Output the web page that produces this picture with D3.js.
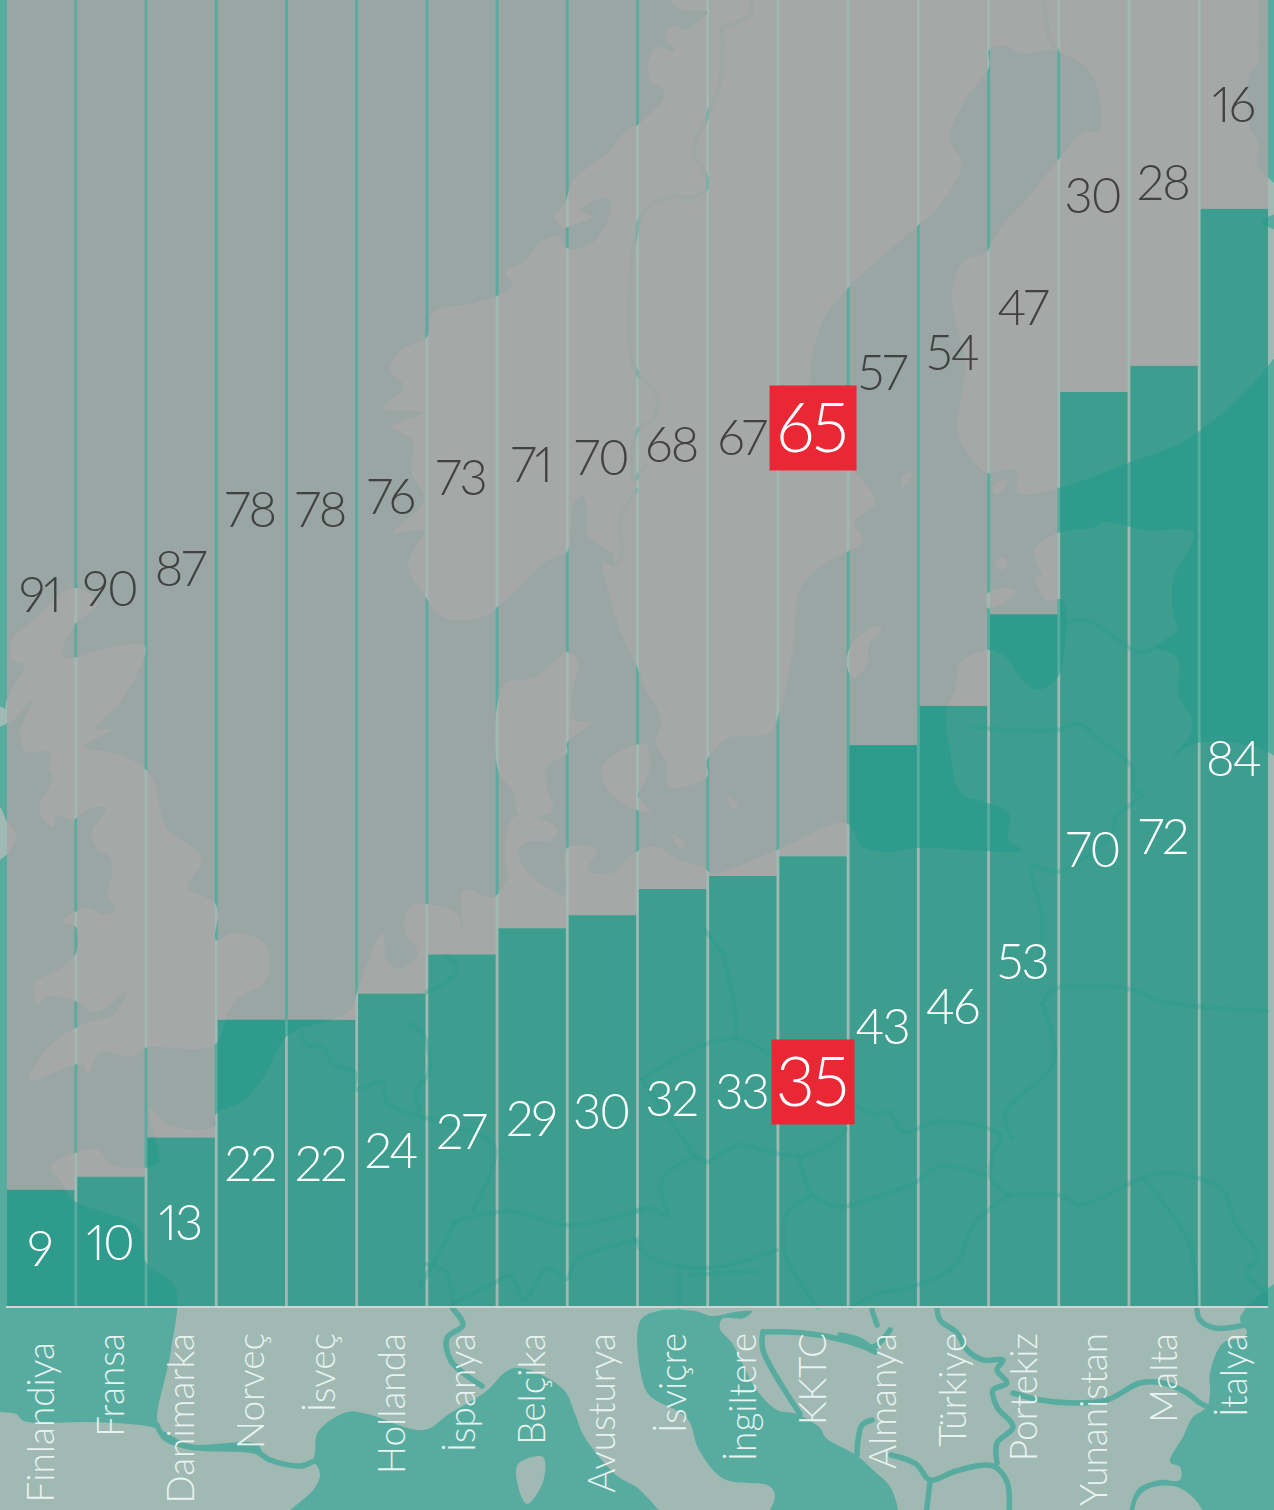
<!DOCTYPE html>
<html><head><meta charset="utf-8">
<style>html,body{margin:0;padding:0;background:#57ac9f}svg{display:block}</style>
<script src="https://cdn.jsdelivr.net/npm/d3@7"></script></head>
<body><svg id="c" width="1274" height="1510"></svg>
<script>
const categories = ["Finlandiya","Fransa","Danimarka","Norveç","İsveç","Hollanda","İspanya","Belçika","Avusturya","İsviçre","İngiltere","KKTC","Almanya","Türkiye","Portekiz","Yunanistan","Malta","İtalya"];
const lowerValues = [9,10,13,22,22,24,27,29,30,32,33,34.5,43,46,53,70,72,84];
const lowerLabels = [9,10,13,22,22,24,27,29,30,32,33,35,43,46,53,70,72,84];
const upperLabels = [91,90,87,78,78,76,73,71,70,68,67,65,57,54,47,30,28,16];
const highlighted = "KKTC";

// background map: traced outlines
const landNorth = [[670,-20],[675,7],[707,12],[685,30],[675,25],[665,35],[675,52],[658,47],[648,63],[650,80],[665,93],[640,123],[624,133],[608,153],[592,165],[573,180],[565,203],[555,217],[565,233],[551,237],[539,243],[527,260],[506,272],[512,287],[475,303],[433,312],[427,337],[402,350],[390,370],[404,387],[384,408],[424,413],[392,427],[412,440],[412,473],[424,500],[394,533],[424,530],[408,565],[424,595],[445,618],[482,617],[496,608],[527,580],[540,565],[555,557],[567,552],[571,530],[573,505],[582,496],[587,505],[588,535],[600,545],[612,553],[614,566],[603,563],[608,590],[620,630],[637,667],[646,690],[661,720],[656,743],[667,763],[669,787],[707,777],[707,760],[728,738],[769,733],[781,707],[793,650],[801,587],[826,563],[834,558],[863,540],[854,523],[875,503],[854,470],[826,433],[810,383],[822,323],[846,290],[916,227],[936,210],[962,163],[950,140],[965,100],[989,67],[989,50],[1001,45],[1022,53],[1046,50],[1058,52],[1091,73],[1099,130],[1083,133],[1058,160],[1026,200],[1001,227],[985,253],[965,260],[952,293],[965,367],[958,433],[973,460],[987,473],[1016,470],[1018,493],[1058,488],[1128,463],[1197,433],[1290,330],[1290,240],[1262,222],[1290,205],[1274,183],[1258,167],[1258,143],[1250,127],[1250,73],[1258,63],[1258,50],[1246,-20]];
const landMain = [[51,1166],[98,1150],[110,1164],[145,1168],[159,1162],[155,1137],[149,1107],[169,1125],[214,1127],[216,1114],[245,1100],[265,1075],[284,1039],[302,1028],[327,1021],[350,1010],[357,992],[382,933],[388,963],[402,968],[418,953],[404,930],[412,905],[433,905],[457,913],[463,930],[463,890],[494,897],[510,878],[535,887],[563,897],[567,848],[596,850],[588,870],[612,873],[634,853],[656,847],[679,860],[703,867],[712,873],[777,850],[846,823],[863,847],[887,852],[916,848],[1022,850],[1009,840],[1009,813],[985,802],[961,793],[950,750],[946,713],[956,687],[960,663],[989,650],[1005,657],[1022,680],[1038,690],[1058,677],[1065,643],[1063,600],[1046,600],[1036,578],[1042,577],[1034,550],[1058,533],[1095,527],[1103,522],[1144,530],[1193,533],[1173,580],[1173,613],[1177,630],[1156,647],[1177,657],[1179,697],[1191,717],[1191,733],[1173,757],[1197,743],[1290,770],[1290,1530],[165,1530],[160,1430],[157,1418],[171,1350],[175,1286],[147,1264],[139,1228],[73,1200],[61,1182]];
const landUK = [[33,620],[12,640],[12,660],[24,665],[6,703],[8,723],[33,700],[20,733],[27,752],[49,752],[49,770],[53,777],[39,810],[53,827],[57,815],[73,820],[86,810],[106,808],[92,833],[98,850],[110,857],[112,873],[108,897],[116,908],[106,915],[86,908],[63,922],[76,927],[76,953],[53,973],[35,982],[37,1004],[49,996],[73,1000],[96,1012],[127,991],[114,1014],[86,1023],[53,1043],[29,1080],[82,1064],[88,1073],[100,1052],[131,1057],[145,1048],[214,1045],[229,1009],[241,996],[265,982],[269,957],[261,940],[233,933],[216,940],[218,913],[214,902],[188,887],[202,862],[196,850],[171,833],[163,820],[153,780],[143,767],[114,753],[84,747],[110,730],[96,728],[122,700],[145,647],[122,645],[63,657],[73,627],[98,603],[73,588]];
const landIreland = [[-15,800],[0,807],[6,820],[16,837],[8,853],[0,860],[-15,870]];
const landIrelandN = [[-15,705],[6,710],[8,722],[-15,728]];
const landDenmark = [[602,767],[622,750],[646,745],[650,763],[646,780],[638,795],[650,812],[637,810],[608,790]];
const landJutland = [[567,652],[578,660],[571,700],[575,720],[590,723],[567,743],[567,753],[547,767],[547,787],[553,810],[535,817],[518,813],[514,793],[498,770],[498,700],[506,683],[535,677],[559,657]];
const landFrisia = [[514,817],[557,828],[551,840],[527,842],[518,852],[530,875],[561,897],[510,880]];
const landAfrica = [[-20,1412],[0,1412],[16,1414],[24,1421],[90,1422],[139,1425],[157,1429],[167,1439],[188,1447],[253,1452],[278,1464],[314,1463],[320,1475],[314,1489],[286,1515],[280,1530],[-20,1530]];
const landSardinia = [[518,1464],[543,1457],[543,1482],[527,1504],[518,1486]];
const landCauc = [[1137,1500],[1150,1488],[1180,1488],[1203,1512],[1200,1530],[1137,1530]];
const islands = [
  [[879,626],[881,633],[869,643],[867,663],[854,678],[847,667],[852,643]],
  [[1001,558],[1008,563],[1002,570],[995,564]],
  [[986,595],[1005,588],[1016,592],[1003,603],[988,608]],
  [[728,795],[738,807],[731,807]],
  [[673,835],[685,843],[679,848]],
  [[903,475],[912,473],[908,483],[902,487]],
  [[993,487],[1007,480],[1003,490],[995,494]]
];
const seaFjord = [[608,198],[610,213],[592,243],[567,248],[559,233],[592,217],[580,210]];
const seaMedW = [[162,1432],[188,1444],[257,1444],[265,1457],[278,1462],[306,1468],[314,1457],[318,1432],[347,1412],[367,1414],[424,1430],[449,1414],[484,1393],[514,1368],[563,1389],[575,1414],[584,1436],[616,1475],[640,1490],[665,1530],[200,1530]];
const seaAdriatic = [[640,1321],[658,1311],[695,1311],[712,1316],[735,1312],[752,1311],[744,1318],[722,1319],[720,1329],[732,1343],[756,1389],[777,1410],[797,1414],[820,1428],[826,1438],[856,1455],[873,1470],[892,1490],[895,1530],[765,1530],[775,1496],[769,1486],[724,1479],[699,1450],[687,1418],[650,1396],[642,1379]];
const seaBlack = [[1290,1280],[1240,1318],[1247,1332],[1243,1338],[1223,1343],[1210,1373],[1210,1393],[1207,1407],[1193,1417],[1183,1437],[1170,1462],[1180,1467],[1180,1480],[1160,1480],[1137,1490],[1133,1530],[1290,1530]];

const straits = [
  [[157,1425],[165,1438],[190,1447],[255,1451],[270,1460],[300,1466],[312,1462]],
  [[763,1332],[790,1332],[830,1337],[862,1346],[875,1352]],
  [[763,1332],[763,1350],[800,1414]],
  [[857,1455],[858,1440],[862,1425],[872,1420]],
  [[891,1455],[916,1464],[928,1479],[934,1480],[956,1471],[993,1466],[1007,1482],[1009,1515]],
  [[930,1482],[926,1515]],
  [[937,1308],[940,1320],[957,1333],[967,1350],[983,1360],[1003,1360],[997,1370],[1007,1383],[993,1390],[997,1407],[1013,1427],[997,1443],[997,1463]],
  [[1013,1393],[1040,1400],[1073,1403],[1107,1400],[1140,1383],[1163,1383],[1187,1393],[1200,1403],[1208,1407]],
  [[840,1335],[860,1340],[873,1347],[890,1330]],
  [[872,1310],[877,1325]],
  [[1197,1310],[1200,1320],[1215,1328],[1245,1325]],
  [[453,1309],[463,1325],[447,1338],[451,1361],[482,1386]]
];
const rivers = [
  [[634,1211],[650,1208],[667,1216],[661,1182],[695,1157],[707,1162],[738,1145],[773,1153],[805,1155],[838,1139],[846,1129]],
  [[642,1079],[703,1045],[740,1039],[769,1054]],
  [[642,1079],[695,1157]],
  [[722,950],[734,1004],[736,1036]],
  [[854,1104],[875,1114],[889,1111],[903,1132],[940,1121],[1001,1136],[993,1154],[991,1179],[1009,1195]],
  [[799,1157],[805,1179],[814,1196],[838,1207],[867,1200],[916,1182],[940,1166],[985,1175]],
  [[1009,1195],[1063,1196],[1079,1205],[1140,1179],[1165,1173],[1222,1189],[1234,1221],[1258,1257],[1246,1273],[1267,1293]],
  [[811,1196],[787,1214],[785,1254],[818,1307]],
  [[1009,1195],[973,1225],[956,1264],[920,1284],[875,1295],[850,1307]],
  [[634,1239],[650,1257],[707,1268],[777,1250]],
  [[679,1268],[679,1307]],
  [[691,1275],[760,1271]],
  [[1144,1179],[1189,1243],[1197,1307]],
  [[1042,1004],[1054,989],[1128,989],[1165,1002],[1267,1011]],
  [[1042,1004],[1054,1061],[1005,1114],[1012,1139]],
  [[973,727],[1058,730],[1079,723],[1095,737],[1132,767],[1134,790],[1144,793],[1116,817],[1112,833],[1058,872],[1032,867],[1042,917],[1038,980]],
  [[1067,623],[1087,620],[1128,647],[1140,653],[1156,647]],
  [[705,930],[720,950]],
  [[302,1032],[306,1045],[322,1046],[333,1064],[355,1073],[355,1089],[382,1082],[388,1104],[420,1116],[494,1146],[473,1211]],
  [[455,1221],[510,1211],[567,1225],[640,1211]],
  [[455,1221],[437,1257],[420,1286]],
  [[424,1264],[445,1271],[453,1304]],
  [[453,1304],[496,1282],[510,1275],[524,1300],[547,1268],[567,1279],[575,1261],[588,1254],[640,1239]],
  [[408,1023],[424,1036],[429,1071],[416,1093],[420,1111]],
  [[424,993],[445,983],[457,967],[445,955]],
  [[722,27],[720,83],[707,117],[693,153],[705,173],[707,187],[695,197],[671,197],[646,210],[636,233],[634,367],[658,397],[654,417],[636,433],[634,480],[645,465]],
  [[748,-5],[752,12],[736,23],[722,27]],
  [[1044,-5],[1048,33],[1058,52]],
  [[614,566],[622,555],[620,520],[630,500],[636,490]]
];

const SEA = "#57ac9f", LAND = "#a0b9b3";
const W = 1274;
const svg = d3.select("#c");

const closed = d3.line().curve(d3.curveCatmullRomClosed.alpha(0.5));
const open = d3.line().curve(d3.curveCatmullRom.alpha(0.5));

svg.append("rect").attr("width",W).attr("height",1510).attr("fill",SEA);
const map = svg.append("g");
map.selectAll(".land").data([landNorth,landMain,landUK,landIreland,landIrelandN,landDenmark,landJutland,landFrisia]).join("path").attr("class","land").attr("d",closed).attr("fill",LAND);
map.selectAll(".sea").data([seaFjord,seaMedW,seaAdriatic,seaBlack]).join("path").attr("class","sea").attr("d",closed).attr("fill",SEA);
map.selectAll(".land2").data([landAfrica,landSardinia,landCauc,...islands]).join("path").attr("class","land2").attr("d",closed).attr("fill",LAND);
map.selectAll(".strait").data(straits).join("path").attr("class","strait").attr("d",open).attr("fill","none").attr("stroke",SEA).attr("stroke-width",5.5).attr("stroke-linecap","round");
map.selectAll(".river").data(rivers).join("path").attr("class","river").attr("d",open).attr("fill","none").attr("stroke",SEA).attr("stroke-width",4.5).attr("stroke-opacity",0.55).attr("stroke-linecap","round");

const x = d3.scaleBand().domain(categories).range([7,1268]).paddingInner(0.04);
const y = d3.scaleLinear().domain([0,100]).range([1307.6,-0.4]);

const rows = categories.map((c,i)=>({c,i,lo:lowerValues[i],loLab:lowerLabels[i],upLab:upperLabels[i]}));
const bars = svg.append("g");
bars.selectAll(".upper").data(rows).join("rect").attr("class","upper")
  .attr("x",d=>x(d.c)).attr("width",x.bandwidth())
  .attr("y",y(100)).attr("height",d=>y(d.lo)-y(100))
  .attr("fill","#a7a5a5").attr("fill-opacity",0.84);
bars.selectAll(".lower").data(rows).join("rect").attr("class","lower")
  .attr("x",d=>x(d.c)).attr("width",x.bandwidth())
  .attr("y",d=>y(d.lo)).attr("height",d=>y(0)-y(d.lo))
  .attr("fill","#249787").attr("fill-opacity",0.8);

const FONT = "Lato, 'Open Sans', sans-serif";
const cx = d=>x(d.c)+x.bandwidth()/2;
const upY = d=>(y(100)+y(d.lo))/2;
const loY = d=>(y(0)+y(d.lo))/2;

// highlight boxes
const hi = rows.filter(d=>d.c===highlighted);
bars.selectAll(".boxU").data(hi).join("rect").attr("class","boxU")
  .attr("x",d=>cx(d)-43.5).attr("width",87).attr("y",d=>upY(d)-42.5).attr("height",85).attr("fill","#e92735");
bars.selectAll(".boxL").data(hi).join("rect").attr("class","boxL")
  .attr("x",d=>cx(d)-41.5).attr("width",83).attr("y",d=>loY(d)-42.5).attr("height",85).attr("fill","#e92735");

function labels(cls,key,yf,normalFill){
  bars.selectAll("."+cls).data(rows).join("text").attr("class",cls)
    .attr("x",d=>cx(d)+(d.c===highlighted?-1.5:-1.2))
    .attr("y",yf)
    .attr("dy","0.36em")
    .attr("text-anchor","middle")
    .attr("font-family",FONT).attr("font-weight",300)
    .attr("font-size",d=>d.c===highlighted?68:49)
    .attr("letter-spacing",d=>d.c===highlighted?-2:-1.8)
    .style("font-feature-settings","'pnum' 1")
    .attr("fill",d=>d.c===highlighted?"#fff":normalFill)
    .text(d=>d[key]);
}
labels("ul","upLab",upY,"#414141");
labels("ll","loLab",loY,"#ffffff");

// axis
const axis = svg.append("g").attr("transform","translate(0,1307)").call(d3.axisBottom(x).tickSize(0).tickPadding(0));
axis.select(".domain").attr("stroke","#cfd5d2").attr("stroke-width",2).attr("d","M6,0H1268");
axis.selectAll(".tick text")
  .attr("font-family",FONT).attr("font-weight",300).attr("font-size",37)
  .attr("fill","#e8f3f0").attr("text-anchor","end")
  .attr("dy",null)
  .attr("transform",(d,i)=>`translate(13,${i===0?35:26}) rotate(-90)`)
  .attr("x",0).attr("y",0);
</script></body></html>
